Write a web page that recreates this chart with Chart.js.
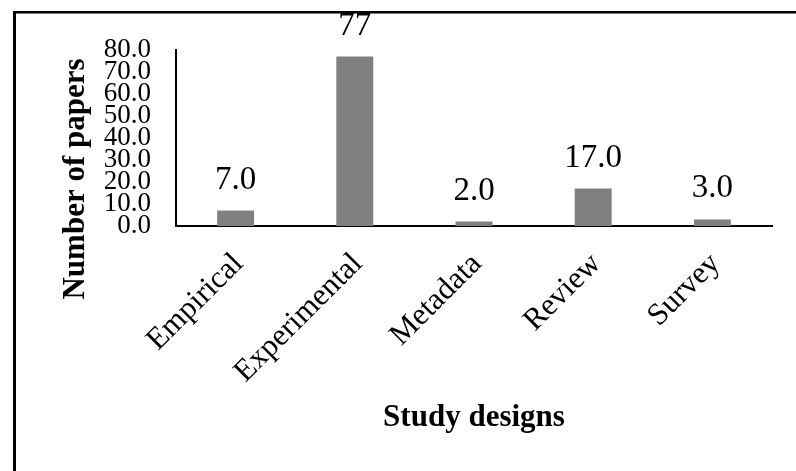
<!DOCTYPE html>
<html>
<head>
<meta charset="utf-8">
<script src="https://cdn.jsdelivr.net/npm/chart.js@4/dist/chart.umd.min.js"></script>
<style>
  html, body { margin: 0; padding: 0; background: #ffffff; }
  #wrap { position: relative; width: 796px; height: 471px; }
</style>
</head>
<body>
<div id="wrap"><canvas id="chart" width="796" height="471"></canvas></div>
<script>
// Study designs and number of papers in each
const designs = ['Empirical', 'Experimental', 'Metadata', 'Review', 'Survey'];
const papers = [7, 77, 2, 17, 3];
// decimals shown in each bar's value label
const labelDecimals = [1, 0, 1, 1, 1];
const yTicks = [0, 10, 20, 30, 40, 50, 60, 70, 80];

const SERIF = '"Liberation Serif", "Times New Roman", serif';

// Frame, axis titles and value labels
const decorations = {
  id: 'decorations',
  beforeDraw(chart) {
    const ctx = chart.ctx;
    ctx.save();
    ctx.fillStyle = '#ffffff';
    ctx.fillRect(0, 0, chart.width, chart.height);
    ctx.fillStyle = '#000000';
    ctx.fillRect(13, 11, 3, chart.height - 11);
    ctx.fillRect(13, 11, chart.width - 13, 2.5);
    ctx.restore();
  },
  afterDatasetsDraw(chart) {
    const ctx = chart.ctx;
    const meta = chart.getDatasetMeta(0);
    ctx.save();
    ctx.fillStyle = '#000000';
    ctx.font = '33px ' + SERIF;
    ctx.textAlign = 'center';
    ctx.textBaseline = 'alphabetic';
    meta.data.forEach((bar, i) => {
      ctx.fillText(papers[i].toFixed(labelDecimals[i]), bar.x, bar.y - 22);
    });
    ctx.restore();
  },
  afterDraw(chart) {
    const ctx = chart.ctx;
    const area = chart.chartArea;
    ctx.save();
    ctx.fillStyle = '#000000';
    ctx.font = 'bold 31px ' + SERIF;
    ctx.textAlign = 'center';
    ctx.textBaseline = 'alphabetic';
    ctx.fillText('Study designs', (area.left + area.right) / 2, 426);
    ctx.translate(76, 179);
    ctx.rotate(-Math.PI / 2);
    ctx.textBaseline = 'middle';
    ctx.fillText('Number of papers', 0, 0);
    ctx.restore();
  }
};

new Chart(document.getElementById('chart'), {
  type: 'bar',
  data: {
    labels: designs,
    datasets: [{
      data: papers,
      backgroundColor: '#808080',
      borderWidth: 0,
      barPercentage: 0.31,
      categoryPercentage: 1.0
    }]
  },
  options: {
    responsive: false,
    animation: false,
    events: [],
    layout: { padding: { left: 0, right: 24, top: 50, bottom: 0 } },
    plugins: {
      legend: { display: false },
      tooltip: { enabled: false },
      title: { display: false }
    },
    scales: {
      x: {
        grid: { display: false, drawTicks: false },
        border: { display: true, color: '#000000', width: 2 },
        ticks: {
          color: '#000000',
          font: { family: SERIF, size: 31 },
          minRotation: 45,
          maxRotation: 45,
          padding: 20,
          labelOffset: 3,
          autoSkip: false
        },
        afterFit(scale) { scale.height = 245; }
      },
      y: {
        min: yTicks[0],
        max: yTicks[yTicks.length - 1],
        grid: { display: false, drawTicks: false },
        border: { display: true, color: '#000000', width: 2 },
        afterBuildTicks(scale) { scale.ticks = yTicks.map(v => ({ value: v })); },
        ticks: {
          color: '#000000',
          font: { family: SERIF, size: 27 },
          padding: 25,
          autoSkip: false,
          callback: v => Number(v).toFixed(1)
        },
        afterFit(scale) { scale.width = 176; }
      }
    }
  },
  plugins: [decorations]
});
</script>
</body>
</html>
